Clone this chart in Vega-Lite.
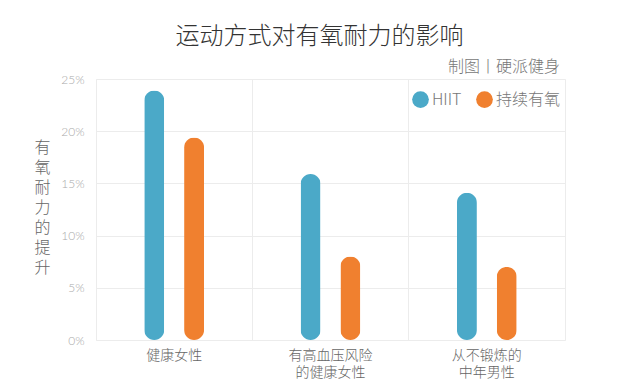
{
  "$schema": "https://vega.github.io/schema/vega-lite/v6.json",
  "autosize": {"type": "none"},
  "width": 469,
  "height": 261,
  "padding": {"left": 96, "top": 79, "right": 75, "bottom": 50},
  "background": "white",
  "config": {
    "font": "Noto Sans CJK SC",
    "view": {"stroke": "#ececec"}
  },
  "title": {
    "text": "运动方式对有氧耐力的影响",
    "fontSize": 24,
    "fontWeight": 300,
    "color": "#333333",
    "anchor": "middle",
    "dx": -11,
    "dy": 20,
    "offset": 30
  },
  "data": {
    "values": [
      {"group": "健康女性", "type": "HIIT", "value": 0.239},
      {"group": "健康女性", "type": "持续有氧", "value": 0.194},
      {"group": "有高血压风险|的健康女性", "type": "HIIT", "value": 0.159},
      {"group": "有高血压风险|的健康女性", "type": "持续有氧", "value": 0.08},
      {"group": "从不锻炼的|中年男性", "type": "HIIT", "value": 0.141},
      {"group": "从不锻炼的|中年男性", "type": "持续有氧", "value": 0.07}
    ]
  },
  "mark": {"type": "bar", "size": 20, "cornerRadius": 10},
  "encoding": {
    "x": {
      "field": "group",
      "type": "nominal",
      "sort": null,
      "scale": {"paddingInner": 0, "paddingOuter": 0},
      "axis": {
        "title": null,
        "labelAngle": 0,
        "labelExpr": "split(datum.value, '|')",
        "labelFontSize": 14,
        "labelFontWeight": 300,
        "labelColor": "#666666",
        "labelPadding": 8,
        "labelLineHeight": 17,
        "domain": false,
        "ticks": false,
        "grid": true,
        "gridColor": "#ececec",
        "bandPosition": 0
      }
    },
    "xOffset": {
      "field": "type",
      "type": "nominal",
      "scale": {"paddingInner": 0, "paddingOuter": 0.9625}
    },
    "y": {
      "field": "value",
      "type": "quantitative",
      "scale": {"domain": [0, 0.25]},
      "axis": {
        "values": [0, 0.05, 0.1, 0.15, 0.2, 0.25],
        "format": ".0%",
        "labelFontSize": 12,
        "labelFont": "Lato",
        "labelFontWeight": 300,
        "labelColor": "#aaaaaa",
        "labelPadding": 12,
        "domain": false,
        "ticks": false,
        "gridColor": "#ececec",
        "title": ["有", "氧", "耐", "力", "的", "提", "升"],
        "titleAngle": 0,
        "titleFontSize": 16,
        "titleFontWeight": 300,
        "titleColor": "#666666",
        "titleLineHeight": 20,
        "titleAlign": "center",
        "titleBaseline": "middle",
        "titleX": -54,
        "titleY": 68
      }
    },
    "color": {
      "field": "type",
      "type": "nominal",
      "scale": {"domain": ["HIIT", "持续有氧"], "range": ["#4BA9C8", "#F0802F"]},
      "legend": {
        "title": "制图丨硬派健身",
        "titleFontSize": 16,
        "titleFontWeight": 300,
        "titleColor": "#777777",
        "titleAnchor": "end",
        "titlePadding": 16,
        "orient": "none",
        "legendX": 316,
        "legendY": -20,
        "direction": "horizontal",
        "symbolType": "circle",
        "symbolSize": 280,
        "symbolStrokeWidth": 0,
        "symbolOpacity": 1,
        "labelFontSize": 16,
        "labelFontWeight": 300,
        "labelColor": "#777777",
        "labelOffset": 3,
        "columnPadding": 14
      }
    }
  }
}
